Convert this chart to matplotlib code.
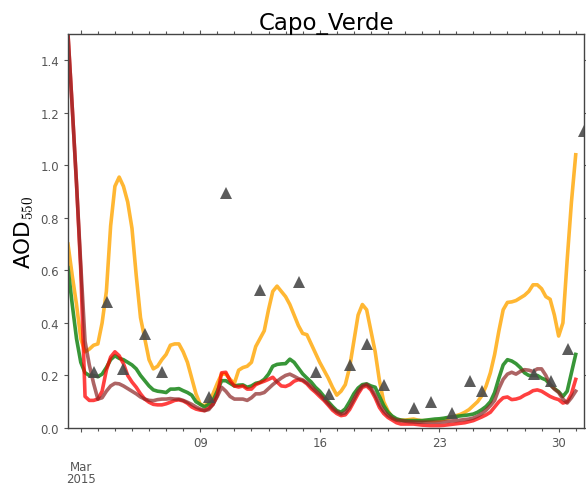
import numpy as np
import matplotlib
matplotlib.use("Agg")
from matplotlib import pyplot as plt
from matplotlib.ticker import FixedLocator, MultipleLocator

# time axis: day of March 2015, every 6 hours from Mar 1 06:00 to Mar 31 00:00
t = np.arange(1.25, 31.01, 0.25)

aod_orange = [
    0.70, 0.58, 0.47,
    0.34, 0.29, 0.30, 0.315,
    0.32, 0.40, 0.52, 0.77,
    0.92, 0.955, 0.92, 0.86,
    0.76, 0.58, 0.42, 0.34,
    0.26, 0.225, 0.235, 0.26,
    0.28, 0.315, 0.32, 0.32,
    0.29, 0.25, 0.19, 0.13,
    0.09, 0.085, 0.095, 0.13,
    0.17, 0.205, 0.205, 0.185,
    0.17, 0.22, 0.23, 0.235,
    0.25, 0.31, 0.34, 0.37,
    0.45, 0.52, 0.54, 0.52,
    0.50, 0.47, 0.43, 0.39,
    0.36, 0.355, 0.32, 0.285,
    0.25, 0.22, 0.19, 0.155,
    0.125, 0.14, 0.165, 0.23,
    0.33, 0.43, 0.47, 0.45,
    0.37, 0.29, 0.18, 0.10,
    0.065, 0.04, 0.032, 0.03,
    0.03, 0.032, 0.034, 0.03,
    0.028, 0.028, 0.028, 0.028,
    0.03, 0.033, 0.037, 0.042,
    0.047, 0.052, 0.06, 0.07,
    0.085, 0.10, 0.123, 0.16,
    0.21, 0.28, 0.37, 0.45,
    0.478, 0.48, 0.485, 0.495,
    0.505, 0.52, 0.545, 0.545,
    0.53, 0.50, 0.49, 0.43,
    0.35, 0.40, 0.64, 0.86,
    1.04,
]

aod_green = [
    0.61, 0.47, 0.34,
    0.25, 0.21, 0.20, 0.20,
    0.195, 0.205, 0.23, 0.26,
    0.275, 0.265, 0.26, 0.25,
    0.24, 0.225, 0.20, 0.18,
    0.16, 0.145, 0.14, 0.138,
    0.135, 0.148, 0.148, 0.15,
    0.142, 0.135, 0.125, 0.10,
    0.09, 0.08, 0.09, 0.105,
    0.14, 0.18, 0.18, 0.17,
    0.16, 0.163, 0.164, 0.155,
    0.16, 0.17, 0.174, 0.185,
    0.205, 0.235, 0.242, 0.244,
    0.245, 0.262, 0.25, 0.228,
    0.206, 0.19, 0.175, 0.155,
    0.14, 0.12, 0.10, 0.082,
    0.066, 0.06, 0.073, 0.10,
    0.13, 0.152, 0.165, 0.168,
    0.16, 0.155, 0.12, 0.085,
    0.06, 0.045, 0.035, 0.03,
    0.028, 0.028, 0.028, 0.028,
    0.028, 0.03, 0.032, 0.034,
    0.035, 0.037, 0.04, 0.042,
    0.044, 0.046, 0.048, 0.05,
    0.053, 0.06, 0.07, 0.082,
    0.10, 0.135, 0.19, 0.24,
    0.26, 0.255, 0.245, 0.23,
    0.21, 0.20, 0.20, 0.20,
    0.19, 0.183, 0.165, 0.15,
    0.138, 0.12, 0.14, 0.21,
    0.28,
]

aod_red = [
    1.50, 1.22, 0.93,
    0.60, 0.12, 0.105, 0.105,
    0.11, 0.14, 0.22, 0.27,
    0.29, 0.275, 0.245, 0.20,
    0.175, 0.155, 0.13, 0.11,
    0.098, 0.09, 0.088, 0.088,
    0.092, 0.098, 0.105, 0.107,
    0.103, 0.094, 0.08, 0.072,
    0.068, 0.066, 0.075, 0.09,
    0.125, 0.21, 0.212, 0.18,
    0.16, 0.156, 0.16, 0.148,
    0.148, 0.165, 0.172, 0.178,
    0.185, 0.193, 0.175, 0.16,
    0.158, 0.165, 0.178, 0.184,
    0.18, 0.168, 0.15, 0.136,
    0.12, 0.105, 0.087, 0.068,
    0.055, 0.047, 0.05, 0.07,
    0.10, 0.13, 0.155, 0.16,
    0.145, 0.115, 0.078, 0.055,
    0.04, 0.03, 0.02, 0.015,
    0.015, 0.015, 0.015, 0.013,
    0.011, 0.01, 0.009, 0.009,
    0.009, 0.01, 0.012, 0.014,
    0.016, 0.018, 0.02, 0.024,
    0.028, 0.035, 0.042, 0.05,
    0.06, 0.08, 0.10, 0.115,
    0.118, 0.108, 0.11, 0.115,
    0.125, 0.132, 0.142, 0.145,
    0.14, 0.13, 0.12, 0.113,
    0.108, 0.095, 0.10, 0.13,
    0.185,
]

aod_brown = [
    1.50, 1.22, 0.93,
    0.62, 0.33, 0.24, 0.17,
    0.11, 0.115, 0.14, 0.16,
    0.17, 0.168, 0.16, 0.15,
    0.14, 0.13, 0.118, 0.11,
    0.105, 0.104, 0.108, 0.11,
    0.11, 0.112, 0.11, 0.11,
    0.105, 0.098, 0.09, 0.08,
    0.072, 0.066, 0.07, 0.09,
    0.12, 0.155, 0.14, 0.12,
    0.11, 0.11, 0.11, 0.105,
    0.115, 0.13, 0.13, 0.135,
    0.15, 0.165, 0.178, 0.19,
    0.20, 0.205, 0.197, 0.188,
    0.183, 0.172, 0.158, 0.142,
    0.128, 0.11, 0.092, 0.075,
    0.062, 0.053, 0.058, 0.08,
    0.11, 0.14, 0.16, 0.166,
    0.152, 0.125, 0.09, 0.065,
    0.048, 0.037, 0.03, 0.028,
    0.026, 0.024, 0.023, 0.022,
    0.022, 0.022, 0.022, 0.022,
    0.022, 0.023, 0.025, 0.027,
    0.028, 0.03, 0.032, 0.034,
    0.038, 0.045, 0.055, 0.068,
    0.085, 0.105, 0.15, 0.185,
    0.205, 0.212, 0.205, 0.215,
    0.222, 0.22, 0.215, 0.225,
    0.225, 0.20, 0.165, 0.148,
    0.135, 0.11, 0.095, 0.115,
    0.14,
]

# AERONET-like observations
obs_day = [2.78, 3.53, 4.5, 5.76, 6.77, 9.53, 10.53, 12.53, 14.77, 15.78,
           16.53, 17.78, 18.78, 19.79, 21.53, 22.53, 23.78, 24.78, 25.53,
           28.54, 29.55, 30.53, 31.5]
obs_aod = [0.214, 0.48, 0.225, 0.356, 0.215, 0.117, 0.893, 0.524, 0.555, 0.213,
           0.13, 0.238, 0.318, 0.162, 0.075, 0.10, 0.057, 0.18, 0.14,
           0.207, 0.18, 0.30, 1.13]

xtick_pos = [2, 9, 16, 23, 30]
xtick_lab = ['\n\nMar\n2015', '09', '16', '23', '30']

plt.rcParams['mathtext.fontset'] = 'cm'
fig = plt.figure(figsize=(5.86, 4.85), dpi=100)
ax = fig.add_axes([0.116, 0.1155, 0.881, 0.8125])

ax.plot(t, aod_orange, color='#FFA500', alpha=0.8, lw=2.6)
ax.plot(t, aod_green, color='#228B22', alpha=0.9, lw=2.6)
ax.plot(t, aod_red, color='#FF0000', alpha=0.75, lw=2.6)
ax.plot(t, aod_brown, color='#8B2323', alpha=0.7, lw=2.6)
ax.plot(obs_day, obs_aod, linestyle='none', marker='^', ms=9,
        color='#4a4a4a', alpha=0.9, markeredgewidth=0)

ax.set_xlim(1.25, 31.5)
ax.set_ylim(0, 1.5)
ax.xaxis.set_major_locator(FixedLocator(xtick_pos))
ax.set_xticklabels(xtick_lab, linespacing=0.92)
ax.xaxis.set_minor_locator(MultipleLocator(1))
ax.yaxis.set_major_locator(MultipleLocator(0.2))
ax.yaxis.set_major_formatter(matplotlib.ticker.FormatStrFormatter('%.1f'))

ax.tick_params(which='both', direction='out', top=True, right=True,
               colors='#555555', labelsize=8.5)
ax.tick_params(which='major', length=3, width=0.8)
ax.tick_params(which='minor', length=2.5, width=0.8)
ax.tick_params(axis='x', which='major', pad=2.5)
for s in ax.spines.values():
    s.set_color('#444444')
    s.set_linewidth(1.0)

ax.set_title('Capo_Verde', fontsize=16.5, pad=3)
ax.set_ylabel('AOD$_{550}$', fontsize=15.5, labelpad=3)

plt.savefig('out.png', dpi=100)
